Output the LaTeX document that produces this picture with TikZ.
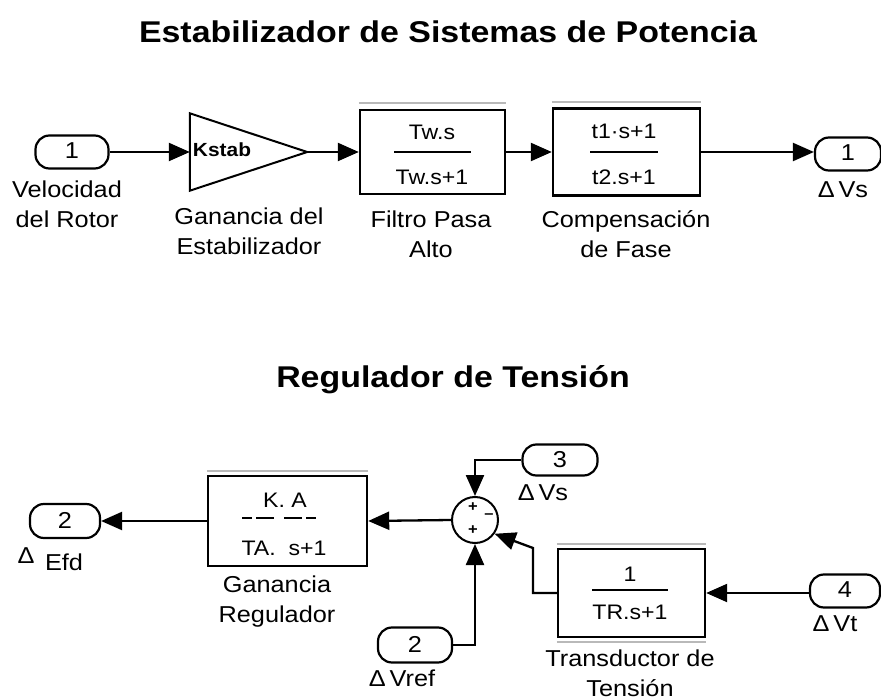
\documentclass[tikz,border=0pt]{standalone}
\usepackage{fontspec}
\setmainfont{Liberation Sans}[FakeStretch=1.1]
\newfontfamily\titlefont{Liberation Sans}[FakeStretch=1.13]
\usetikzlibrary{arrows.meta}
\begin{document}
\begin{tikzpicture}[x=1pt,y=-1pt,
  lbl/.style={font=\fontsize{23}{30}\selectfont, align=center, inner sep=0pt},
  inner/.style={font=\fontsize{21}{24}\selectfont, inner sep=0pt},
  ttl/.style={font=\titlefont\bfseries\fontsize{30}{34}\selectfont, inner sep=0pt, anchor=base},
  port/.style={draw, line width=2.2pt, rounded corners=14pt, minimum width=72pt, minimum height=33pt, inner sep=0pt, font=\fontsize{23}{24}\selectfont},
  blk/.style={draw, line width=2.4pt, inner sep=0pt},
  shade/.style={gray!55, line width=2.4pt},
  sig/.style={line width=2.3pt, -{Triangle[length=21pt,width=18pt]}},
  sgn/.style={font=\bfseries\fontsize{15}{15}\selectfont, inner sep=0pt}
]
\useasboundingbox (0,0) rectangle (881,700);
\fill[white] (0,0) rectangle (881,700);

% ---------- Titles ----------
\node[ttl] (t1) at (448,43) {Estabilizador de Sistemas de Potencia};
\node[ttl] (t2) at (453,388) {Regulador de Tensión};

% ---------- Top row ----------
\node[port, minimum width=73pt] (in1) at (72,152) {\raisebox{2pt}{1}};
\node[lbl] (in1l) at (67,204) {Velocidad\\del Rotor};

\node[minimum width=117pt, minimum height=77pt, inner sep=0pt] (gain) at (248.5,152) {};
\draw[line width=2pt] (gain.north west) -- (gain.east) -- (gain.south west) -- cycle;
\node[font=\bfseries\fontsize{19}{20}\selectfont, inner sep=0pt] (gk) at (222,150) {Kstab};
\node[lbl] (gainl) at (249,231) {Ganancia del\\Estabilizador};

\node[blk, minimum width=145pt, minimum height=84pt] (filt) at (432.5,152) {};
\draw[shade] ([yshift=6pt]filt.north west) -- ([yshift=6pt]filt.north east);
\node[inner] (f1) at (432,132) {Tw.s};
\draw[line width=1.6pt] (394,152) -- (471,152);
\node[inner] (f2) at (432,177) {Tw.s+1};
\node[lbl] (filtl) at (431,234) {Filtro Pasa\\Alto};

\node[blk, minimum width=147pt, minimum height=87pt] (comp) at (626.5,152) {};
\draw[shade] ([yshift=5pt]comp.north west) -- ([yshift=5pt]comp.north east);
\node[inner] (c1) at (624,131) {t1·s+1};
\draw[line width=1.6pt] (590,152) -- (658,152);
\node[inner] (c2) at (624,177) {t2.s+1};
\node[lbl] (compl) at (626,234) {Compensación\\de Fase};

\node[port, minimum width=66pt] (out1) at (848,154) {\raisebox{2pt}{1}};
\node[lbl] (out1l) at (843,190) {Δ\,Vs};

\draw[sig] (in1.east |- 0,152) -- (gain.west);
\draw[sig] (gain.east) -- (filt.west);
\draw[sig] (filt.east) -- (comp.west);
\draw[sig] (comp.east) -- (out1.west |- 0,152);

% ---------- Bottom row ----------
\node[port, minimum width=70pt, minimum height=34pt] (out2) at (65,521) {\raisebox{2pt}{2}};
\node[lbl] (out2d) at (26,556) {Δ};
\node[lbl] (out2l) at (64,562) {Efd};

\node[blk, minimum width=159pt, minimum height=90pt] (ga) at (287.5,521) {};
\draw[shade] ([yshift=4pt]ga.north west) -- ([yshift=4pt]ga.north east);
\node[inner] (g1) at (285,500) {K. A};
\draw[line width=1.6pt, dash pattern=on 10pt off 4pt on 18pt off 10pt on 18pt off 4pt on 10pt] (242,518) -- (320,518);
\node[inner] (g2) at (284,548) {TA.\ \ s+1};
\node[lbl] (gal) at (277,602) {Ganancia\\Regulador};

\node[draw, circle, line width=2pt, minimum size=46pt, inner sep=0pt] (sum) at (475,520) {};
\node[sgn] (s1) at (473,507) {+};
\node[sgn] (s2) at (489,516) {--};
\node[sgn] (s3) at (473,530) {+};

\node[port, minimum width=75pt, minimum height=31pt] (in3) at (560,460) {\raisebox{2pt}{3}};
\node[lbl] (in3l) at (543,493) {Δ\,Vs};

\node[port, minimum width=74pt, minimum height=35pt] (inr) at (415,645) {\raisebox{2pt}{2}};
\node[lbl] (inrl) at (402,678) {Δ\,Vref};

\node[blk, minimum width=147pt, minimum height=88pt] (tr) at (631.5,593) {};
\draw[shade] ([yshift=4pt]tr.north west) -- ([yshift=4pt]tr.north east);
\draw[shade] ([yshift=-4pt]tr.south west) -- ([yshift=-4pt]tr.south east);
\node[inner] (r1) at (630,574) {1};
\draw[line width=1.6pt] (592,590) -- (668,590);
\node[inner] (r2) at (630,612) {TR.s+1};
\node[lbl] (trl) at (630,673) {Transductor de\\Tensión};

\node[port, minimum width=70pt, minimum height=33pt] (in4) at (845,591) {\raisebox{2pt}{4}};
\node[lbl] (in4l) at (835,624) {Δ\,Vt};

\coordinate (bend) at (533,548);
\draw[sig] (sum.west) -- (ga.east);
\draw[sig] (ga.west) -- (out2.east);
\draw[sig] (in3.west) -| (sum.north);
\draw[sig] (inr.east) -| (sum.south);
\draw[sig] (in4.west |- 0,593) -- (tr.east);
\draw[sig] (tr.west) -| (bend) -- (sum.-35);
\end{tikzpicture}
\end{document}
